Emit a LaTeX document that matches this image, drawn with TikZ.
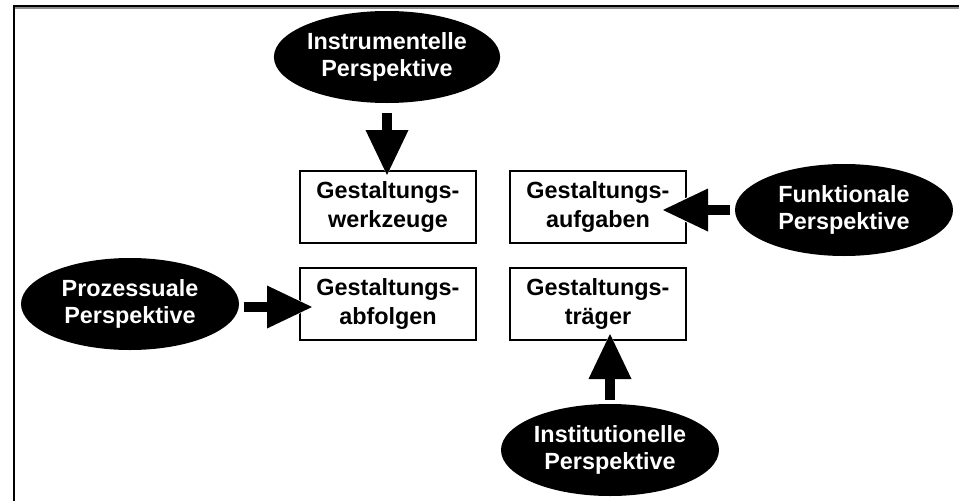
\documentclass[tikz,border=0pt]{standalone}
\usepackage{fontspec}
\setmainfont{Liberation Sans}
\usetikzlibrary{shapes.geometric,arrows.meta,positioning}

\begin{document}
\begin{tikzpicture}[x=1pt,y=-1pt,
  font=\fontsize{23.4}{29}\selectfont\bfseries,
  box/.style={draw,line width=2.4pt,minimum width=175.6pt,minimum height=71.6pt,align=center,inner sep=0pt},
  persp/.style={ellipse,fill=black,text=white,minimum width=218pt,minimum height=92pt,align=center,inner sep=0pt,
    font=\fontsize{23.4}{27}\selectfont\bfseries},
  ar/.style={line width=10pt,-{Triangle[length=45pt,width=43pt,line width=0pt]},
    preaction={draw=white,line width=15pt,-{Triangle[length=50pt,width=53pt,line width=0pt]}}}]
\useasboundingbox (0,0) rectangle (959,501);

% frame
\draw[line width=2pt] (13,5.6) -- (959,5.6);
\draw[black!45,line width=1.6pt] (15.3,8.2) -- (959,8.2);
\draw[line width=2.2pt] (14.3,4.6) -- (14.3,501);

% boxes
\node[box] (werk) at (388,207) {Gestaltungs-\\werkzeuge};
\node[box,right=32pt of werk] (aufg) {Gestaltungs-\\aufgaben};
\node[box,below=23pt of werk] (abf) {Gestaltungs-\\abfolgen};
\node[box,below=23pt of aufg] (traeg) {Gestaltungs-\\träger};

% perspectives
\node[persp] (instr) at (387,57) {Instrumentelle\\Perspektive};
\node[persp] (proz) at (130,304) {Prozessuale\\Perspektive};
\node[persp] (funk) at (844,210) {Funktionale\\Perspektive};
\node[persp] (inst) at (610,450) {Institutionelle\\Perspektive};

\draw[ar,shorten <=10pt,shorten >=-5pt] (instr.south) -- (instr.south |- werk.north);
\draw[ar,shorten <=5pt,shorten >=-13pt] ([yshift=-3pt]proz.east) -- ([yshift=-3pt]proz.east -| abf.west);
\draw[ar,shorten <=5pt,shorten >=-24pt] (funk.west) -- (funk.west -| aufg.east);
\draw[ar,shorten <=4pt,shorten >=-7pt] (inst.north) -- (inst.north |- traeg.south);
\end{tikzpicture}
\end{document}
